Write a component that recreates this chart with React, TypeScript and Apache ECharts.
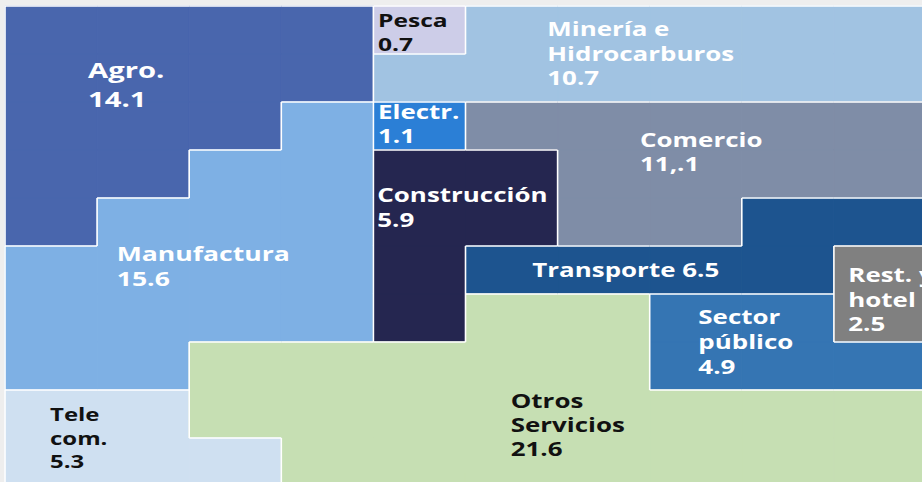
import React, { useEffect, useRef } from 'react';
import * as echarts from 'echarts';

// Sector codes, names and shares (% of GDP); each layout cell = 1%
const CODES = ['A', 'P', 'M', 'E', 'C', 'K', 'F', 'T', 'R', 'S', 'L', 'O'];
const NAMES = ['Agro.', 'Pesca', 'Minería e\nHidrocarburos', 'Electr.', 'Comercio', 'Construcción', 'Manufactura', 'Transporte', 'Rest. y\nhotel', 'Sector\npúblico', 'Tele\ncom.', 'Otros\nServicios'];
const VALUES = [14.1, 0.7, 10.7, 1.1, 11.1, 5.9, 15.6, 6.5, 2.5, 4.9, 5.3, 21.6];
const VALUE_TEXT = ['14.1', '0.7', '10.7', '1.1', '11,.1', '5.9', '15.6', '6.5', '2.5', '4.9', '5.3', '21.6'];

// 10 x 10 mosaic: which sector each cell belongs to
const LAYOUT = [
  'AAAAPMMMMM',
  'AAAAMMMMMM',
  'AAAFECCCCC',
  'AAFFKKCCCC',
  'AFFFKKCCTT',
  'FFFFKTTTTR',
  'FFFFKOOSSR',
  'FFOOOOOSSS',
  'LLOOOOOOOO',
  'LLLOOOOOOO',
];

// styles
const COLORS = ['#4966ad', '#cdcde8', '#a1c3e2', '#2b7fd6', '#7f8da7', '#252650', '#7eb0e4', '#1d548f', '#808080', '#3575b3', '#cfe0f1', '#c6dfb3'];
const TEXT_COLORS = ['#ffffff', '#111111', '#ffffff', '#ffffff', '#ffffff', '#ffffff', '#ffffff', '#ffffff', '#ffffff', '#ffffff', '#111111', '#111111'];
const LABEL_SEP = ['\n', '\n', '\n', '\n', '\n', '\n', '\n', ' ', '\n', '\n', '\n', '\n'];
// label anchor: left edge, vertical centre of first line (in cell units)
const LABEL_POS = [
  [0.901, 1.323], [4.05, 0.277], [5.888, 0.465], [4.05, 2.202], [6.895, 2.775], [4.042, 3.927],
  [1.213, 5.144], [5.725, 5.494], [9.156, 5.588], [7.528, 6.473], [0.489, 8.498], [5.491, 8.223],
];
const FONT_SIZES = [22, 18.5, 19.5, 19.5, 19.5, 19.5, 20, 19.5, 19.5, 19.5, 18, 19.5];
const LINE_HEIGHTS = [29, 24.7, 24.6, 24, 24, 24.5, 25, 24, 24.7, 24.7, 23.4, 24];

export default function App() {
  const ref = useRef<HTMLDivElement>(null);
  useEffect(() => {
    if (!ref.current) return;
    const chart = echarts.init(ref.current, null, { renderer: 'svg' });
    const idx: Record<string, number> = {};
    CODES.forEach((c, i) => (idx[c] = i));
    const rows = LAYOUT.length;
    const cols = LAYOUT[0].length;
    const cells: number[][] = [];
    const edges: number[][] = [];
    for (let r = 0; r < rows; r++) {
      for (let c = 0; c < cols; c++) {
        const code = LAYOUT[r][c];
        cells.push([c, r, idx[code]]);
        if (c === 0) edges.push([c, r, c, r + 1]);
        if (r === 0) edges.push([c, r, c + 1, r]);
        if (c === cols - 1 || LAYOUT[r][c + 1] !== code) edges.push([c + 1, r, c + 1, r + 1]);
        if (r === rows - 1 || LAYOUT[r + 1][c] !== code) edges.push([c, r + 1, c + 1, r + 1]);
      }
    }
    const labels = CODES.map((c, i) => [LABEL_POS[i][0], LABEL_POS[i][1], i, VALUES[i]]);

    chart.setOption({
      animation: false,
      backgroundColor: '#eeeeee',
      grid: { left: 5, top: 6, width: 921, height: 480 },
      xAxis: { type: 'value', min: 0, max: cols, show: false },
      yAxis: { type: 'value', min: 0, max: rows, inverse: true, show: false },
      series: [
        {
          type: 'custom',
          z: 1,
          data: cells,
          renderItem: (params: any, api: any) => {
            const c = api.value(0);
            const r = api.value(1);
            const k = api.value(2);
            const p0 = api.coord([c, r]);
            const p1 = api.coord([c + 1, r + 1]);
            return {
              type: 'rect',
              shape: { x: p0[0], y: p0[1], width: p1[0] - p0[0], height: p1[1] - p0[1] },
              style: { fill: COLORS[k], stroke: COLORS[k], lineWidth: 1 },
            };
          },
        },
        {
          type: 'custom',
          z: 2,
          data: edges,
          renderItem: (params: any, api: any) => {
            const a = api.coord([api.value(0), api.value(1)]);
            const b = api.coord([api.value(2), api.value(3)]);
            return {
              type: 'line',
              shape: { x1: a[0], y1: a[1], x2: b[0], y2: b[1] },
              style: { stroke: '#ffffff', lineWidth: 1.6 },
            };
          },
        },
        {
          type: 'custom',
          z: 3,
          data: labels,
          renderItem: (params: any, api: any) => {
            const k = api.value(2);
            const p = api.coord([api.value(0), api.value(1)]);
            const lh = LINE_HEIGHTS[k];
            return {
              type: 'text',
              x: p[0],
              y: p[1] - lh / 2,
              scaleX: 1.33,
              style: {
                text: NAMES[k] + LABEL_SEP[k] + VALUE_TEXT[k],
                x: 0,
                y: 0,
                fill: TEXT_COLORS[k],
                fontSize: FONT_SIZES[k],
                fontFamily: 'Open Sans',
                fontWeight: 'bold',
                lineHeight: lh,
                align: 'left',
                verticalAlign: 'top',
              },
            };
          },
        },
      ],
    });
    return () => chart.dispose();
  }, []);
  return (
    <div style={{ position: 'fixed', left: 0, top: 0, width: 922, height: 482, overflow: 'hidden', background: '#eeeeee' }}>
      <div ref={ref} style={{ width: 940, height: 500 }} />
    </div>
  );
}
